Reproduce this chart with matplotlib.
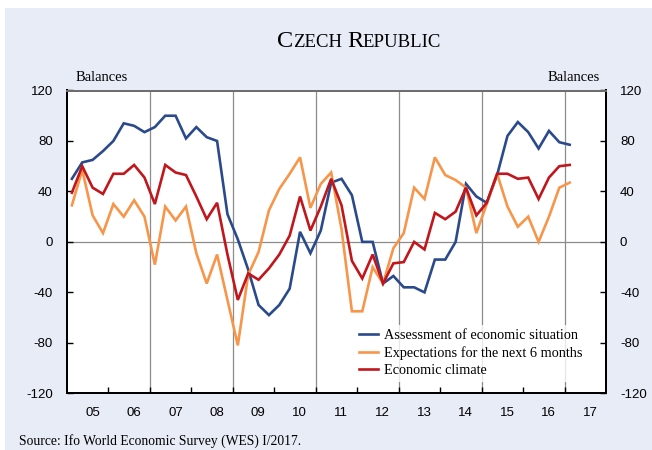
import matplotlib
matplotlib.use('Agg')
import matplotlib.pyplot as plt
import numpy as np
from matplotlib.patches import Rectangle

# ---- data (quarterly, 2005Q1 .. 2017Q1) ----
start_year = 2005
assessment = [50, 63, 65, 72, 80, 94, 92, 87, 91, 100, 100, 82, 91, 83, 80, 22,
              2, -22, -50, -58, -50, -37, 8, -9, 9, 47, 50, 37, 0, 0, -33, -27,
              -36, -36, -40, -14, -14, 0, 46, 36, 31, 53, 84, 95, 87, 74, 88, 79, 77]
expectations = [29, 57, 21, 7, 30, 20, 33, 20, -18, 28, 17, 28, -9, -33, -10, -46,
                -82, -26, -8, 25, 42, 54, 67, 27, 46, 55, 10, -55, -55, -20, -33, -5,
                7, 43, 34, 67, 53, 49, 43, 7, 30, 54, 28, 12, 20, 0, 20, 43, 47]
climate = [39, 60, 43, 38, 54, 54, 61, 51, 30, 61, 55, 53, 36, 18, 31, -10,
           -46, -25, -30, -21, -10, 5, 36, 9, 28, 50, 29, -15, -29, -10, -33, -17,
           -16, 0, -6, 23, 18, 24, 43, 21, 31, 54, 54, 50, 51, 34, 51, 60, 61]
series_labels = ["Assessment of economic situation",
                 "Expectations for the next 6 months",
                 "Economic climate"]
year_labels = ["05", "06", "07", "08", "09", "10", "11", "12", "13", "14", "15", "16", "17"]
y_ticks = [-120, -80, -40, 0, 40, 80, 120]

colors = ["#2b4a8b", "#f7964a", "#c1161c"]

W, H = 652, 450
fig = plt.figure(figsize=(W / 100, H / 100), dpi=100, facecolor='white')
bg = Rectangle((5 / W, 0), 1, (H - 8.3) / H, transform=fig.transFigure,
               facecolor='#e8ecf7', edgecolor='none', zorder=-10)
fig.patches.append(bg)

left, right, top, bottom = 66.7, 606, 90.5, 393.3
ax = fig.add_axes([left / W, 1 - bottom / H, (right - left) / W, (bottom - top) / H])
ax.set_facecolor('white')

n = len(assessment)
x = start_year + (np.arange(n) + 0.5) / 4.0

ax.set_xlim(2005, 2018)
ax.set_ylim(-120, 120)

# grid lines at odd years and zero line
for yr in range(2007, 2018, 2):
    ax.axvline(yr, color='#8c8c8c', lw=0.9, zorder=1)
ax.axhline(0, color='#8c8c8c', lw=0.9, zorder=1)

lines = []
for vals, c, lab in zip([assessment, expectations, climate], colors, series_labels):
    ln, = ax.plot(x, vals, color=c, lw=1.9, zorder=3, label=lab, solid_joinstyle='miter')
    lines.append(ln)

# ticks
ax.set_yticks(y_ticks)
ax.set_yticklabels([str(v) for v in y_ticks], fontfamily='Liberation Sans', fontsize=9.5)
ax.tick_params(axis='y', direction='in', length=4, width=1, pad=10, colors='black')
ax.set_xticks(range(2006, 2018))
ax.set_xticklabels([])
ax.tick_params(axis='x', which='major', direction='in', length=4, width=1)
ax.set_xticks([start_year + i + 0.62 for i in range(len(year_labels))], minor=True)
ax.set_xticklabels(year_labels, minor=True, fontfamily='Liberation Sans', fontsize=9.5)
ax.tick_params(axis='x', which='minor', length=0, pad=10)

ax2 = ax.twinx()
ax2.set_ylim(-120, 120)
ax2.set_yticks(y_ticks)
ax2.set_yticklabels([str(v) for v in y_ticks], fontfamily='Liberation Sans', fontsize=9.5)
ax2.tick_params(axis='y', direction='in', length=4, width=1, pad=10)

for a in (ax, ax2):
    for s in ('left', 'right', 'bottom'):
        a.spines[s].set_linewidth(1.4)
        a.spines[s].set_color('black')
    a.spines['top'].set_linewidth(1.4)
    a.spines['top'].set_color('#6e6e6e')

# legend
leg = ax2.legend(lines, series_labels, loc='upper left',
                 bbox_to_anchor=(348 / W, 1 - 318 / H), bbox_transform=fig.transFigure,
                 prop={'family': 'Liberation Serif', 'size': 10.3},
                 handlelength=1.3, handletextpad=0.45, labelspacing=0.28,
                 borderpad=0.3, frameon=True, fancybox=False)
leg.get_frame().set_facecolor('white')
leg.get_frame().set_edgecolor('white')
leg.get_frame().set_linewidth(0)
leg.set_zorder(5)

# texts
fig.text(76 / W, 1 - 81 / H, "Balances", family='Liberation Serif', fontsize=10.5,
         ha='left', va='baseline')
fig.text(600 / W, 1 - 81 / H, "Balances", family='Liberation Serif', fontsize=10.5,
         ha='right', va='baseline')
fig.text(19 / W, 1 - 441.5 / H, "Source: Ifo World Economic Survey (WES) I/2017.",
         family='Liberation Serif', fontsize=9.8, ha='left', va='center')

# small-caps title
fig.canvas.draw()
renderer = fig.canvas.get_renderer()
pieces = [("C", 17.5), ("ZECH", 13.5), (None, 5), ("R", 17.5), ("EPUBLIC", 13.5)]
xpos = 276.7
yb = 1 - 47.3 / H
for s, size in pieces:
    if s is None:
        xpos += size
        continue
    t = fig.text(xpos / W, yb, s, family='Liberation Serif', fontsize=size,
                 ha='left', va='baseline')
    xpos += t.get_window_extent(renderer).width

fig.savefig('out.png', dpi=100, facecolor='white')
